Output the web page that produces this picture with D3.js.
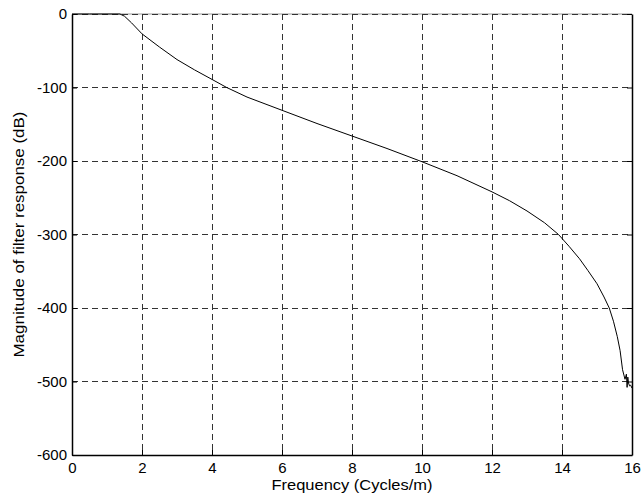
<!DOCTYPE html>
<html>
<head>
<meta charset="utf-8">
<script src="https://cdn.jsdelivr.net/npm/d3@7"></script>
<style>
  body { margin: 0; background: #fff; }
  text { font-family: "Liberation Sans", Arial, sans-serif; }
</style>
</head>
<body>
<script>
// values
var freq = [0, 0.5, 1.0, 1.37, 1.5, 1.7, 2.0, 2.5, 3.0, 3.5, 4.0, 4.42, 5.0, 6.0, 7.0, 8.0, 9.0,
            10.0, 11.0, 12.0, 12.5, 13.0, 13.5, 13.9, 14.2, 14.5, 14.74, 15.0, 15.2, 15.35, 15.47,
            15.58, 15.66, 15.73, 15.8, 15.84, 15.86, 15.88, 15.9, 15.93, 15.96, 16.0];
var magDb = [0, 0, 0, 0, -3, -12, -27, -45, -62, -76, -89, -100, -113, -131, -149, -166, -183,
             -201, -220, -242, -254, -268, -284, -300, -316, -333, -349, -367, -385, -400, -418,
             -439, -458, -484, -497, -490, -508, -494, -502, -506, -505, -509];
var xTicks = [0, 2, 4, 6, 8, 10, 12, 14, 16];
var yTicks = [0, -100, -200, -300, -400, -500, -600];

var W = 642, H = 502;
var m = { left: 72, right: 10, top: 14, bottom: 47 };
var iw = W - m.left - m.right, ih = H - m.top - m.bottom;

var svg = d3.select("body").append("svg")
    .attr("width", W)
    .attr("height", H);

var g = svg.append("g").attr("transform", "translate(" + m.left + "," + m.top + ")");

var x = d3.scaleLinear().domain([0, 16]).range([0, iw]);
var y = d3.scaleLinear().domain([-600, 0]).range([ih, 0]);

// top box line (light, under the grid)
g.append("line").attr("x1", 0).attr("x2", iw).attr("y1", 0).attr("y2", 0)
    .attr("stroke", "#999").attr("stroke-width", 1);

// grid
g.selectAll(".vgrid").data(xTicks.slice(1, -1)).enter().append("line")
    .attr("x1", function (d) { return x(d); }).attr("x2", function (d) { return x(d); })
    .attr("y1", 0).attr("y2", ih)
    .attr("stroke", "#333").attr("stroke-width", 1).attr("stroke-dasharray", "6,4")
    .attr("shape-rendering", "crispEdges");
g.selectAll(".hgrid").data(yTicks.slice(0, -1)).enter().append("line")
    .attr("x1", 0).attr("x2", iw)
    .attr("y1", function (d) { return y(d); }).attr("y2", function (d) { return y(d); })
    .attr("stroke", "#333").attr("stroke-width", 1).attr("stroke-dasharray", "6,4")
    .attr("shape-rendering", "crispEdges");

// axes with inward ticks, plain hyphen minus like the original
var fmt = function (d) { return String(d); };
var xAxis = g.append("g").attr("transform", "translate(0," + ih + ")")
    .call(d3.axisBottom(x).tickValues(xTicks).tickFormat(fmt).tickSizeInner(-5).tickSizeOuter(0).tickPadding(7));
var yAxis = g.append("g")
    .call(d3.axisLeft(y).tickValues(yTicks).tickFormat(fmt).tickSizeInner(-5).tickSizeOuter(0).tickPadding(5));
var rAxis = g.append("g").attr("transform", "translate(" + iw + ",0)")
    .call(d3.axisRight(y).tickValues(yTicks).tickSizeInner(-5).tickSizeOuter(0).tickFormat(""));

[xAxis, yAxis, rAxis].forEach(function (a) {
    a.select(".domain").attr("stroke", "#000").attr("stroke-width", 1.5);
    a.selectAll(".tick line").attr("stroke", "#000");
    a.selectAll("text").attr("font-size", 15).attr("fill", "#000")
        .style("font-family", "'Liberation Sans', Arial, sans-serif");
});

// curve
var line = d3.line()
    .x(function (d, i) { return x(freq[i]); })
    .y(function (d) { return y(d); });
g.append("path")
    .datum(magDb)
    .attr("d", line)
    .attr("fill", "none")
    .attr("stroke", "#000")
    .attr("stroke-width", 1);

// labels
svg.append("text")
    .attr("x", m.left + iw / 2).attr("y", 490)
    .attr("text-anchor", "middle").attr("font-size", 15)
    .attr("textLength", 161).attr("lengthAdjust", "spacingAndGlyphs")
    .text("Frequency (Cycles/m)");
svg.append("text")
    .attr("transform", "translate(24," + (m.top + ih / 2) + ") rotate(-90)")
    .attr("text-anchor", "middle").attr("font-size", 15)
    .attr("textLength", 246).attr("lengthAdjust", "spacingAndGlyphs")
    .text("Magnitude of filter response (dB)");
</script>
</body>
</html>
